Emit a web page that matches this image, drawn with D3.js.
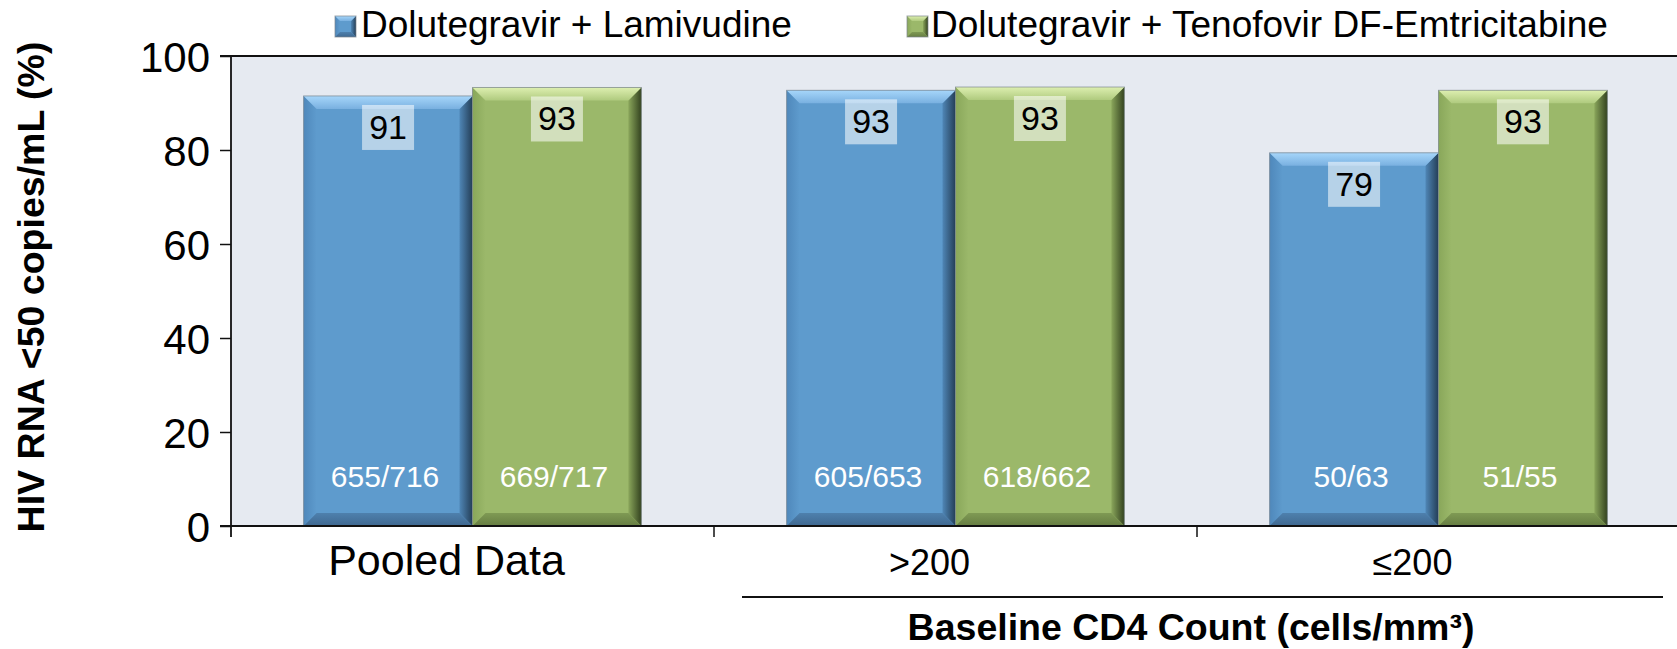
<!DOCTYPE html>
<html>
<head>
<meta charset="utf-8">
<script src="https://cdn.jsdelivr.net/npm/d3@7"></script>
<style>
  body { margin: 0; background: #fff; }
  svg { display: block; font-family: "Liberation Sans", Arial, sans-serif; }
</style>
</head>
<body>
<svg id="chart" width="1677" height="649"></svg>
<script>
// Dữ liệu
const categories = ["Pooled Data", ">200", "≤200"];
const seriesNames = ["Dolutegravir + Lamivudine", "Dolutegravir + Tenofovir DF-Emtricitabine"];
const lamValues = [91.5, 92.7, 79.4];
const tdfValues = [93.3, 93.4, 92.7];
const lamLabels = ["91", "93", "79"];
const tdfLabels = ["93", "93", "93"];
const lamCounts = ["655/716", "605/653", "50/63"];
const tdfCounts = ["669/717", "618/662", "51/55"];
const yTicks = [0, 20, 40, 60, 80, 100];

const svg = d3.select("#chart");

// Kích thước vùng vẽ
const plot = { left: 231, top: 56, right: 1680, bottom: 526 };
const catFontSize = [43, 36, 36];

const x0 = d3.scaleBand()
    .domain(categories)
    .range([plot.left, plot.right])
    .paddingInner(0).paddingOuter(0);

const x1 = d3.scaleBand()
    .domain([0, 1])
    .range([0, x0.bandwidth()])
    .paddingInner(0).paddingOuter(0.43);

const y = d3.scaleLinear()
    .domain([0, 100])
    .range([plot.bottom, plot.top]);

// Màu cho hai nhóm
const palettes = [
    { face: "#5E9BCD", topA: "#A6D6FA", topB: "#79B0E0", rightA: "#4F86B6", rightB: "#243E57",
      botA: "#4E80AD", botB: "#3F6890", leftA: "#4F88BB", leftB: "#5E9BCD" },
    { face: "#9BB86A", topA: "#DDEFB0", topB: "#AFCA7E", rightA: "#8AA65B", rightB: "#33421F",
      botA: "#7F9A54", botB: "#667D42", leftA: "#89A75A", leftB: "#9BB86A" }
];

// Gradient cho hiệu ứng vát cạnh
const defs = svg.append("defs");
palettes.forEach((p, i) => {
    const grad = (id, x2, y2, a, b) => {
        const g = defs.append("linearGradient").attr("id", id)
            .attr("x1", 0).attr("y1", 0).attr("x2", x2).attr("y2", y2);
        g.append("stop").attr("offset", "0%").attr("stop-color", a);
        g.append("stop").attr("offset", "100%").attr("stop-color", b);
    };
    grad(`top${i}`, 0, 1, p.topA, p.topB);
    grad(`right${i}`, 1, 0, p.rightA, p.rightB);
    grad(`bot${i}`, 0, 1, p.botA, p.botB);
    grad(`left${i}`, 1, 0, p.leftA, p.leftB);
});

function bevelRect(g, x, yy, w, h, b, i) {
    const p = palettes[i];
    g.append("rect").attr("x", x).attr("y", yy).attr("width", w).attr("height", h).attr("fill", p.face);
    const poly = (pts, fill) => g.append("polygon")
        .attr("points", pts.map(q => q.join(",")).join(" "))
        .attr("fill", fill);
    poly([[x, yy], [x + b, yy + b], [x + b, yy + h - b], [x, yy + h]], `url(#left${i})`);
    poly([[x + w, yy], [x + w - b, yy + b], [x + w - b, yy + h - b], [x + w, yy + h]], `url(#right${i})`);
    poly([[x, yy + h], [x + w, yy + h], [x + w - b, yy + h - b], [x + b, yy + h - b]], `url(#bot${i})`);
    poly([[x, yy], [x + w, yy], [x + w - b, yy + b], [x + b, yy + b]], `url(#top${i})`);
    g.append("rect").attr("x", x).attr("y", yy).attr("width", w).attr("height", h)
        .attr("fill", "none").attr("stroke", "#7d8790").attr("stroke-width", 1).attr("stroke-opacity", 0.7);
}

// Nền vùng vẽ
svg.append("rect")
    .attr("x", plot.left).attr("y", plot.top)
    .attr("width", 1677 - plot.left).attr("height", plot.bottom - plot.top)
    .attr("fill", "#E6EAF1");

// Dữ liệu cột
const bars = [];
categories.forEach((c, ci) => {
    bars.push({ cat: c, s: 0, v: lamValues[ci], label: lamLabels[ci], count: lamCounts[ci] });
    bars.push({ cat: c, s: 1, v: tdfValues[ci], label: tdfLabels[ci], count: tdfCounts[ci] });
});

const barG = svg.append("g");
bars.forEach(d => {
    const bx = x0(d.cat) + x1(d.s);
    const by = y(d.v);
    const bw = x1.bandwidth();
    const bh = plot.bottom - by;
    bevelRect(barG, bx, by, bw, bh, 13, d.s);

    const cx = bx + bw / 2;
    // Nhãn giá trị
    barG.append("rect")
        .attr("x", cx - 26).attr("y", by + 9)
        .attr("width", 52).attr("height", 45)
        .attr("fill", "#fff").attr("fill-opacity", 0.55);
    barG.append("text")
        .attr("x", cx).attr("y", by + 43)
        .attr("text-anchor", "middle")
        .style("font-size", "34px")
        .style("fill", "#000")
        .text(d.label);
    // Số bệnh nhân
    barG.append("text")
        .attr("x", cx - 3).attr("y", 487)
        .attr("text-anchor", "middle")
        .style("font-size", "30px")
        .style("fill", "#fff")
        .text(d.count);
});

// Trục Y
const yAxis = svg.append("g")
    .attr("transform", `translate(${plot.left},0)`)
    .call(d3.axisLeft(y).tickValues(yTicks).tickSize(11).tickSizeOuter(0).tickPadding(10));
yAxis.select(".domain").remove();
yAxis.selectAll(".tick line").attr("stroke", "#111").attr("stroke-width", 1.5);
yAxis.selectAll(".tick text")
    .style("font-size", "42px")
    .style("font-family", "'Liberation Sans', Arial, sans-serif")
    .attr("fill", "#000")
    .attr("dy", "0.36em");

const lines = svg.append("g").attr("stroke", "#111").attr("stroke-width", 1.8);
lines.append("line").attr("x1", plot.left).attr("x2", plot.left).attr("y1", plot.top).attr("y2", plot.bottom + 11);
lines.append("line").attr("x1", 220).attr("x2", 1677).attr("y1", plot.top).attr("y2", plot.top);
lines.append("line").attr("x1", 220).attr("x2", 1677).attr("y1", plot.bottom).attr("y2", plot.bottom);
categories.slice(1).forEach(c => {
    lines.append("line").attr("x1", x0(c)).attr("x2", x0(c))
        .attr("y1", plot.bottom).attr("y2", plot.bottom + 11).attr("stroke-width", 1.5);
});

// Nhãn trục X (lệch trái một chút như hình gốc)
svg.selectAll(".cat")
    .data(categories)
    .enter().append("text")
    .attr("class", "cat")
    .attr("x", d => x0(d) + x0.bandwidth() / 2 - 26)
    .attr("y", 575)
    .attr("text-anchor", "middle")
    .style("font-size", (d, i) => catFontSize[i] + "px")
    .text(d => d);

// Đường nhóm CD4 và tiêu đề
svg.append("line")
    .attr("x1", 742).attr("x2", 1663).attr("y1", 597).attr("y2", 597)
    .attr("stroke", "#111").attr("stroke-width", 2);

const cd4Center = (x0(categories[1]) + x0(categories[2]) + x0.bandwidth()) / 2;
svg.append("text")
    .attr("x", cd4Center - 6).attr("y", 640)
    .attr("text-anchor", "middle")
    .style("font-size", "37.5px")
    .style("font-weight", "bold")
    .text("Baseline CD4 Count (cells/mm³)");

// Tiêu đề trục Y
svg.append("text")
    .attr("transform", "translate(44,287) rotate(-90)")
    .attr("text-anchor", "middle")
    .style("font-size", "37.5px")
    .style("font-weight", "bold")
    .text("HIV RNA <50 copies/mL (%)");

// Chú giải
const legendPos = [{ mx: 335, tx: 361 }, { mx: 907, tx: 931 }];
seriesNames.forEach((name, i) => {
    const lg = svg.append("g");
    bevelRect(lg, legendPos[i].mx, 16, 21, 21, 5, i);
    lg.append("text")
        .attr("x", legendPos[i].tx).attr("y", 37)
        .style("font-size", "37px")
        .text(name);
});
</script>
</body>
</html>
